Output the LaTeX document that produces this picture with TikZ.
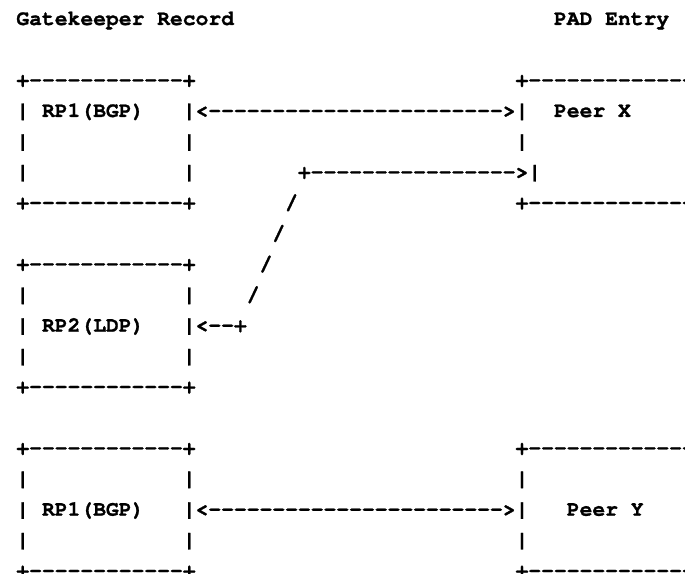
\documentclass[tikz,border=0pt]{standalone}
\usepackage{fontspec}
\setmonofont{texgyrecursor}[Extension=.otf, UprightFont=*-regular, BoldFont=*-bold,
  BoldFeatures={FakeBold=1.2}]
\begin{document}
% character grid: one column = 9.6pt, one text line = 23pt (downwards)
\begin{tikzpicture}[x=9.6pt, y=-23pt,
  ascii/.style={anchor=base west, inner sep=0pt, outer sep=0pt,
    font=\ttfamily\bfseries\fontsize{16pt}{16pt}\selectfont}]
\useasboundingbox (-12.3pt,18.75pt) rectangle (501.45pt,-411.75pt);
\clip (-12.3pt,18.75pt) rectangle (501.45pt,-411.75pt);

% headings
\node[ascii] (hgk)  at (0,0)  {Gatekeeper Record};
\node[ascii] (hpad) at (42,0) {PAD Entry};

% gatekeeper record, RP1 (BGP) towards Peer X
\node[ascii] (a-top)   at (0,2)  {+------------+};
\node[ascii] (a-l3)    at (0,3)  {|};
\node[ascii] (a-name)  at (2,3)  {RP1(BGP)};
\node[ascii] (a-arrow) at (13,3) {|<----------------------->|};
\node[ascii] (a-l4)    at (0,4)  {|};
\node[ascii] (a-r4)    at (13,4) {|};
\node[ascii] (a-l5)    at (0,5)  {|};
\node[ascii] (a-r5)    at (13,5) {|};
\node[ascii] (a-bot)   at (0,6)  {+------------+};

% PAD entry Peer X
\node[ascii] (x-top)  at (39,2) {+--------------};
\node[ascii] (x-name) at (42,3) {Peer X};
\node[ascii] (x-l4)   at (39,4) {|};
\node[ascii] (x-bot)  at (39,6) {+--------------};

% link from RP2 (LDP) up to Peer X
\node[ascii] (l-top) at (22,5) {+---------------->|};
\node[ascii] (l-s1)  at (21,6) {/};
\node[ascii] (l-s2)  at (20,7) {/};
\node[ascii] (l-s3)  at (19,8) {/};
\node[ascii] (l-s4)  at (18,9) {/};

% gatekeeper record, RP2 (LDP)
\node[ascii] (b-top)   at (0,8)   {+------------+};
\node[ascii] (b-l9)    at (0,9)   {|};
\node[ascii] (b-r9)    at (13,9)  {|};
\node[ascii] (b-l10)   at (0,10)  {|};
\node[ascii] (b-name)  at (2,10)  {RP2(LDP)};
\node[ascii] (b-arrow) at (13,10) {|<--+};
\node[ascii] (b-l11)   at (0,11)  {|};
\node[ascii] (b-r11)   at (13,11) {|};
\node[ascii] (b-bot)   at (0,12)  {+------------+};

% gatekeeper record, RP1 (BGP) towards Peer Y
\node[ascii] (c-top)   at (0,14)  {+------------+};
\node[ascii] (c-l15)   at (0,15)  {|};
\node[ascii] (c-r15)   at (13,15) {|};
\node[ascii] (c-l16)   at (0,16)  {|};
\node[ascii] (c-name)  at (2,16)  {RP1(BGP)};
\node[ascii] (c-arrow) at (13,16) {|<----------------------->|};
\node[ascii] (c-l17)   at (0,17)  {|};
\node[ascii] (c-r17)   at (13,17) {|};
\node[ascii] (c-bot)   at (0,18)  {+------------+};

% PAD entry Peer Y
\node[ascii] (y-top)  at (39,14) {+--------------};
\node[ascii] (y-l15)  at (39,15) {|};
\node[ascii] (y-name) at (43,16) {Peer Y};
\node[ascii] (y-l17)  at (39,17) {|};
\node[ascii] (y-bot)  at (39,18) {+--------------};
\end{tikzpicture}
\end{document}
